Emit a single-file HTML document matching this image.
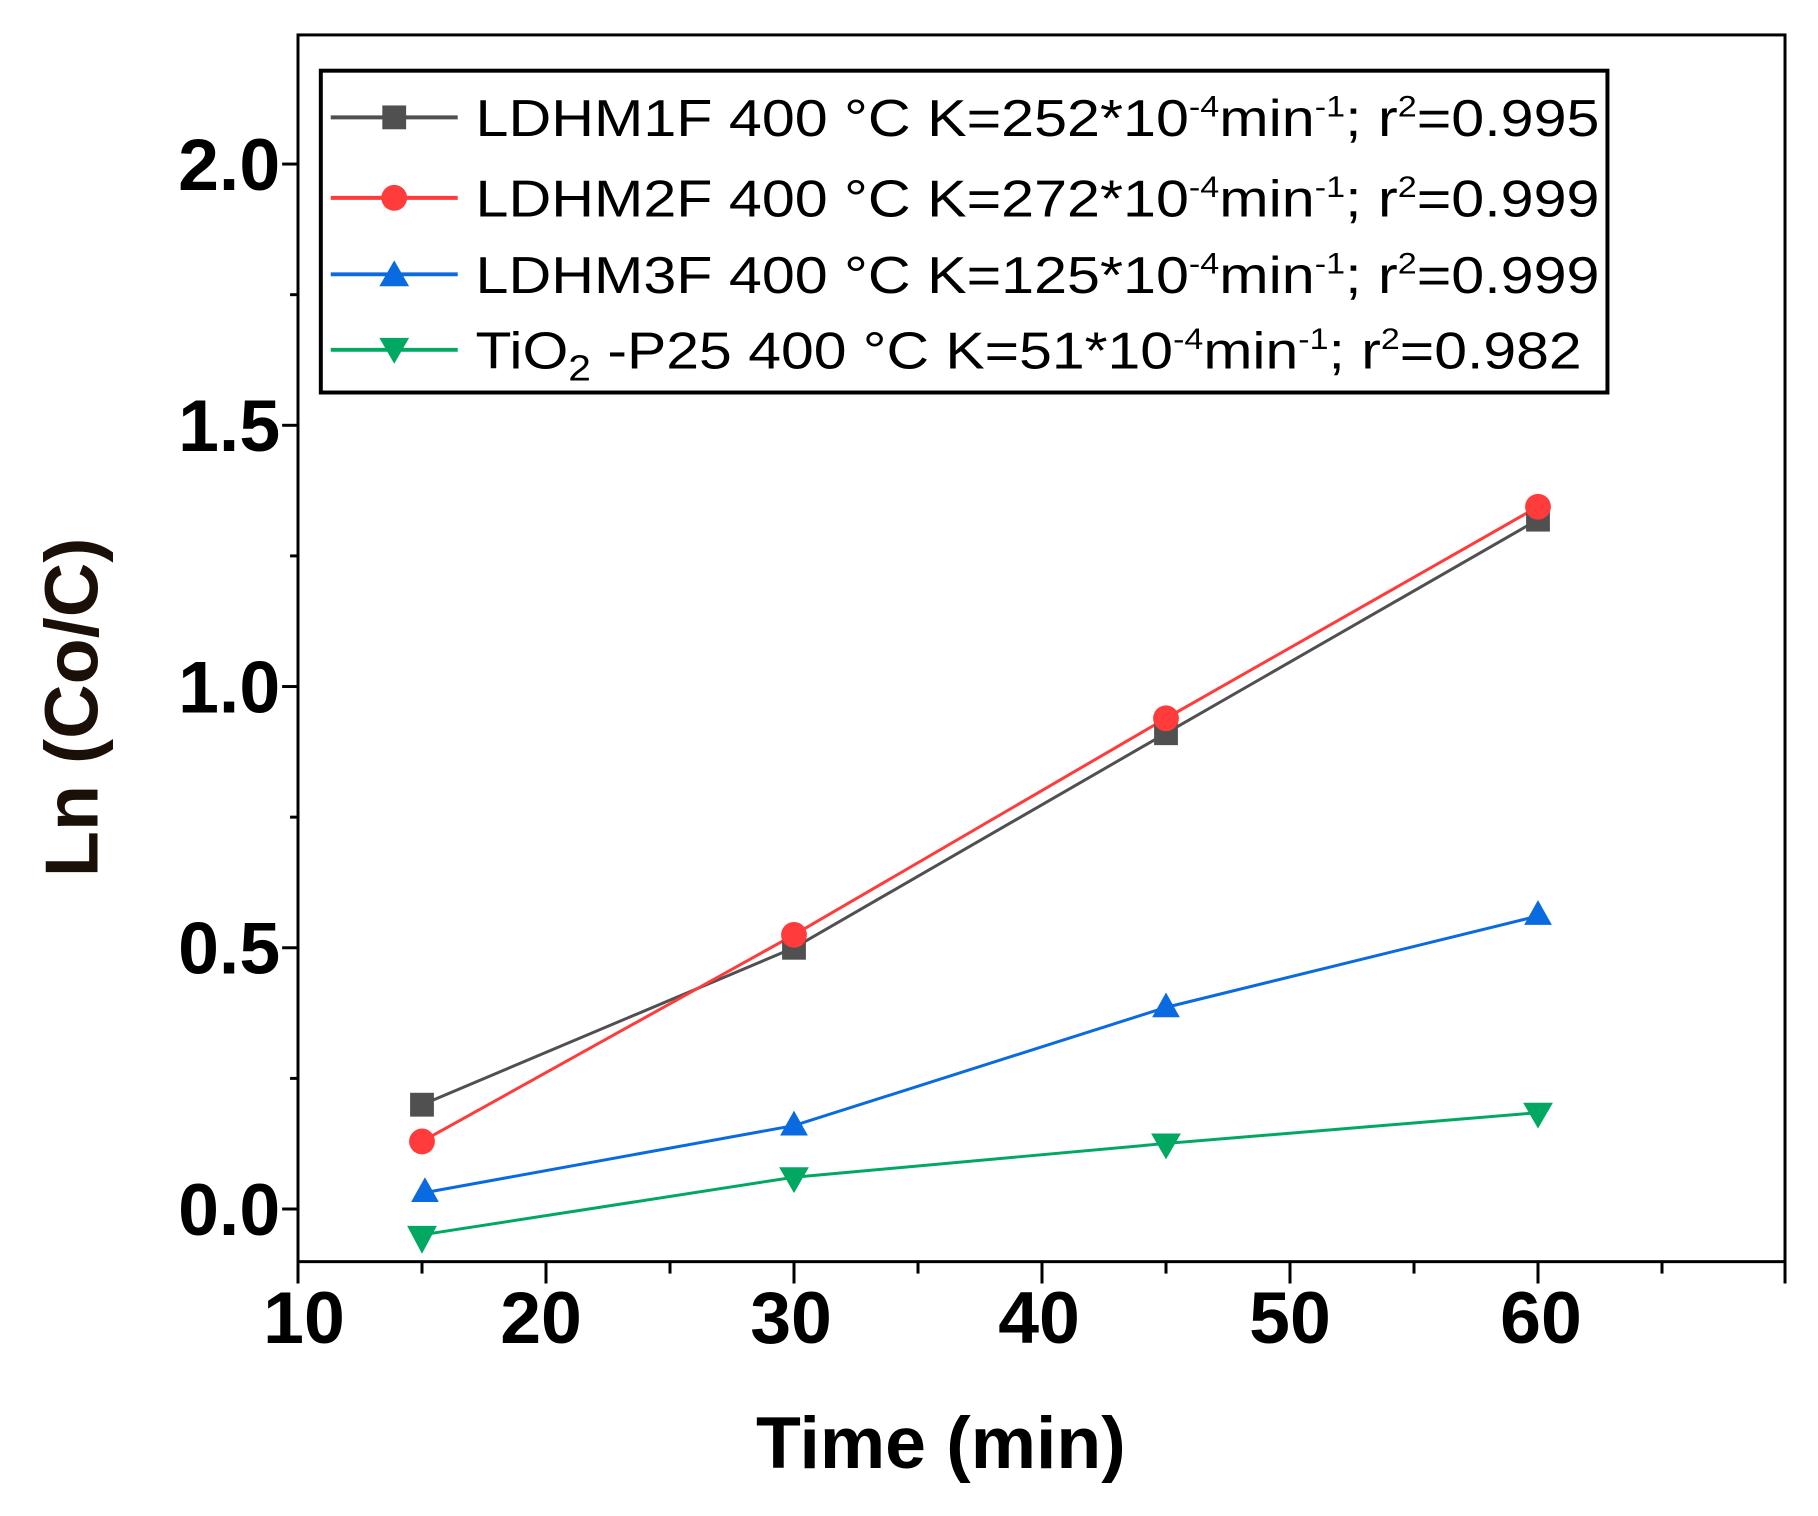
<!DOCTYPE html>
<html><head><meta charset="utf-8"><style>
html,body{margin:0;padding:0;background:#fff;}
svg{display:block;}
text{font-family:"Liberation Sans",Arial,sans-serif;}
</style></head><body>
<svg width="1818" height="1516" viewBox="0 0 1818 1516" xmlns="http://www.w3.org/2000/svg">
<rect width="1818" height="1516" fill="#fff"/>
<g transform="matrix(0.992,0,0,0.9933,0.4,0.16)">
<!-- frame -->
<rect x="300" y="35" width="1499" height="1235" fill="none" stroke="#000" stroke-width="3"/>
<g stroke="#000" stroke-width="3">
<line x1="300" y1="1270" x2="300" y2="1292"/>
<line x1="550" y1="1270" x2="550" y2="1292"/>
<line x1="800" y1="1270" x2="800" y2="1292"/>
<line x1="1050" y1="1270" x2="1050" y2="1292"/>
<line x1="1300" y1="1270" x2="1300" y2="1292"/>
<line x1="1550" y1="1270" x2="1550" y2="1292"/>
<line x1="1799" y1="1270" x2="1799" y2="1292"/>
<line x1="425" y1="1270" x2="425" y2="1282"/>
<line x1="675" y1="1270" x2="675" y2="1282"/>
<line x1="925" y1="1270" x2="925" y2="1282"/>
<line x1="1175" y1="1270" x2="1175" y2="1282"/>
<line x1="1425" y1="1270" x2="1425" y2="1282"/>
<line x1="1675" y1="1270" x2="1675" y2="1282"/>
<line x1="300" y1="1217" x2="284" y2="1217"/>
<line x1="300" y1="954" x2="284" y2="954"/>
<line x1="300" y1="691" x2="284" y2="691"/>
<line x1="300" y1="428" x2="284" y2="428"/>
<line x1="300" y1="165" x2="284" y2="165"/>
<line x1="300" y1="1085.5" x2="292" y2="1085.5"/>
<line x1="300" y1="822.5" x2="292" y2="822.5"/>
<line x1="300" y1="559.5" x2="292" y2="559.5"/>
<line x1="300" y1="296.5" x2="292" y2="296.5"/>
</g>
<g font-size="74" font-weight="bold" fill="#000" text-anchor="end">
<text x="282" y="1243">0.0</text>
<text x="282" y="980">0.5</text>
<text x="282" y="717">1.0</text>
<text x="282" y="454">1.5</text>
<text x="282" y="191">2.0</text>
</g>
<g font-size="74" font-weight="bold" fill="#000" text-anchor="middle">
<text x="306" y="1352">10</text>
<text x="545" y="1352">20</text>
<text x="797" y="1352">30</text>
<text x="1047" y="1352">40</text>
<text x="1300" y="1352">50</text>
<text x="1553" y="1352">60</text>
</g>
<text x="948" y="1478" font-size="74" font-weight="bold" text-anchor="middle" fill="#000">Time (min)</text>
<text transform="translate(98,712) rotate(-90)" font-size="76" font-weight="bold" text-anchor="middle" fill="#1a1008">Ln (Co/C)</text>

<polyline points="425,1112 800,954 1175,738 1550,523" fill="none" stroke="#505050" stroke-width="3"/>
<polyline points="425,1149 800,941 1175,723 1550,510" fill="none" stroke="#ff3b3b" stroke-width="3"/>
<polyline points="425,1201 800,1133 1175,1014 1550,922" fill="none" stroke="#0a6ae0" stroke-width="3"/>
<polyline points="425,1243 800,1185 1175,1151 1550,1120" fill="none" stroke="#00a862" stroke-width="3"/>
<g fill="#505050">
<rect x="413" y="1100" width="24" height="24"/><rect x="788" y="942" width="24" height="24"/>
<rect x="1163" y="726" width="24" height="24"/><rect x="1538" y="511" width="24" height="24"/>
</g>
<g fill="#ff3b3b">
<circle cx="425" cy="1149" r="13"/><circle cx="800" cy="941" r="13"/>
<circle cx="1175" cy="723" r="13"/><circle cx="1550" cy="510" r="13"/>
</g>
<g fill="#0a6ae0">
<polygon points="428,1185 442,1210 414,1210"/><polygon points="800,1118 814,1143 786,1143"/>
<polygon points="1175,999 1189,1024 1161,1024"/><polygon points="1550,906 1564,931 1536,931"/>
</g>
<g fill="#00a862">
<polygon points="410,1234 440,1234 425,1262"/><polygon points="785,1175 815,1175 800,1201"/>
<polygon points="1160,1141 1190,1141 1175,1167"/><polygon points="1535,1110 1565,1110 1550,1136"/>
</g>

<rect x="323" y="71" width="1297" height="324" fill="#fff" stroke="#000" stroke-width="4"/>
<line x1="333" y1="118" x2="461" y2="118" stroke="#505050" stroke-width="4"/>
<rect x="385" y="106" width="24" height="24" fill="#505050"/>
<line x1="333" y1="199" x2="461" y2="199" stroke="#ff3b3b" stroke-width="4"/>
<circle cx="397" cy="199" r="13" fill="#ff3b3b"/>
<line x1="333" y1="276" x2="461" y2="276" stroke="#0a6ae0" stroke-width="4"/>
<polygon points="397,262 412,288 382,288" fill="#0a6ae0"/>
<line x1="333" y1="352" x2="461" y2="352" stroke="#00a862" stroke-width="4"/>
<polygon points="382,340 412,340 397,366" fill="#00a862"/>
<g font-size="52" fill="#000">
<text x="479" y="137" textLength="1133" lengthAdjust="spacingAndGlyphs">LDHM1F   400 °C K=252*10<tspan dy="-20" font-size="30">-4</tspan><tspan dy="20">min</tspan><tspan dy="-20" font-size="30">-1</tspan><tspan dy="20">; r</tspan><tspan dy="-20" font-size="30">2</tspan><tspan dy="20">=0.995</tspan></text>
<text x="479" y="218" textLength="1133" lengthAdjust="spacingAndGlyphs">LDHM2F  400 °C K=272*10<tspan dy="-20" font-size="30">-4</tspan><tspan dy="20">min</tspan><tspan dy="-20" font-size="30">-1</tspan><tspan dy="20">; r</tspan><tspan dy="-20" font-size="30">2</tspan><tspan dy="20">=0.999</tspan></text>
<text x="479" y="295" textLength="1133" lengthAdjust="spacingAndGlyphs">LDHM3F  400 °C K=125*10<tspan dy="-20" font-size="30">-4</tspan><tspan dy="20">min</tspan><tspan dy="-20" font-size="30">-1</tspan><tspan dy="20">; r</tspan><tspan dy="-20" font-size="30">2</tspan><tspan dy="20">=0.999</tspan></text>
<text x="479" y="371" textLength="1115" lengthAdjust="spacingAndGlyphs">TiO<tspan dy="12" font-size="36">2</tspan><tspan dy="-12"> -P25  400 °C  K=51*10</tspan><tspan dy="-20" font-size="30">-4</tspan><tspan dy="20">min</tspan><tspan dy="-20" font-size="30">-1</tspan><tspan dy="20">; r</tspan><tspan dy="-20" font-size="30">2</tspan><tspan dy="20">=0.982</tspan></text>
</g>
</g>
</svg>
</body></html>
